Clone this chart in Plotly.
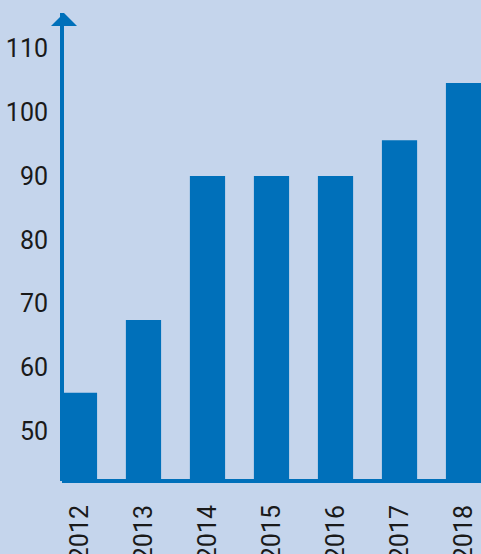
import plotly.graph_objects as go

years = ["2012", "2013", "2014", "2015", "2016", "2017", "2018"]
values = [56, 67.4, 90, 90, 90, 95.6, 104.6]
y_ticks = [50, 60, 70, 80, 90, 100, 110]

BG = "#c5d5ec"
BLUE = "#0070ba"
TXT = "#1a1a1a"
FONT = "Roboto, sans-serif"
FS = 25

fig = go.Figure(go.Bar(x=years, y=values, marker=dict(color=BLUE, line=dict(width=0)),
                       width=0.55))

fig.update_layout(
    width=481, height=554,
    margin=dict(l=62, r=0, t=13, b=73, autoexpand=False),
    paper_bgcolor=BG, plot_bgcolor=BG,
    showlegend=False,
    font=dict(family=FONT, size=FS, color=TXT),
)
fig.update_xaxes(type="category", range=[-0.273, 6.273], showgrid=False, zeroline=False,
                 showline=False, ticks="", tickangle=-90, ticklabelstandoff=18,
                 automargin=False, tickfont=dict(family=FONT, size=FS, color=TXT))
fig.update_yaxes(range=[42.16, 115.57], tickvals=y_ticks, showgrid=False, zeroline=False,
                 showline=False, ticks="", ticklabelstandoff=13, automargin=False,
                 tickfont=dict(family=FONT, size=FS, color=TXT))

# axis line with arrowhead (decoration)
fig.add_shape(type="line", xref="paper", yref="paper", x0=0, x1=0, y0=0, y1=1,
              xsizemode="pixel", xanchor=0, line=dict(color=BLUE, width=4))
fig.add_shape(type="path", xref="paper", yref="paper", xsizemode="pixel", ysizemode="pixel",
              xanchor=0, yanchor=1, path="M -11,-13 L 15,-13 L 2,0 Z",
              fillcolor=BLUE, line=dict(width=0))
fig.add_shape(type="line", xref="paper", yref="paper", x0=0, x1=1, y0=0, y1=0,
              line=dict(color=BLUE, width=4))

fig.write_html("out.html", config={"displayModeBar": False},
               post_script="document.body.style.margin='0';document.body.style.padding='0';"
                           "document.documentElement.style.overflow='hidden';")
